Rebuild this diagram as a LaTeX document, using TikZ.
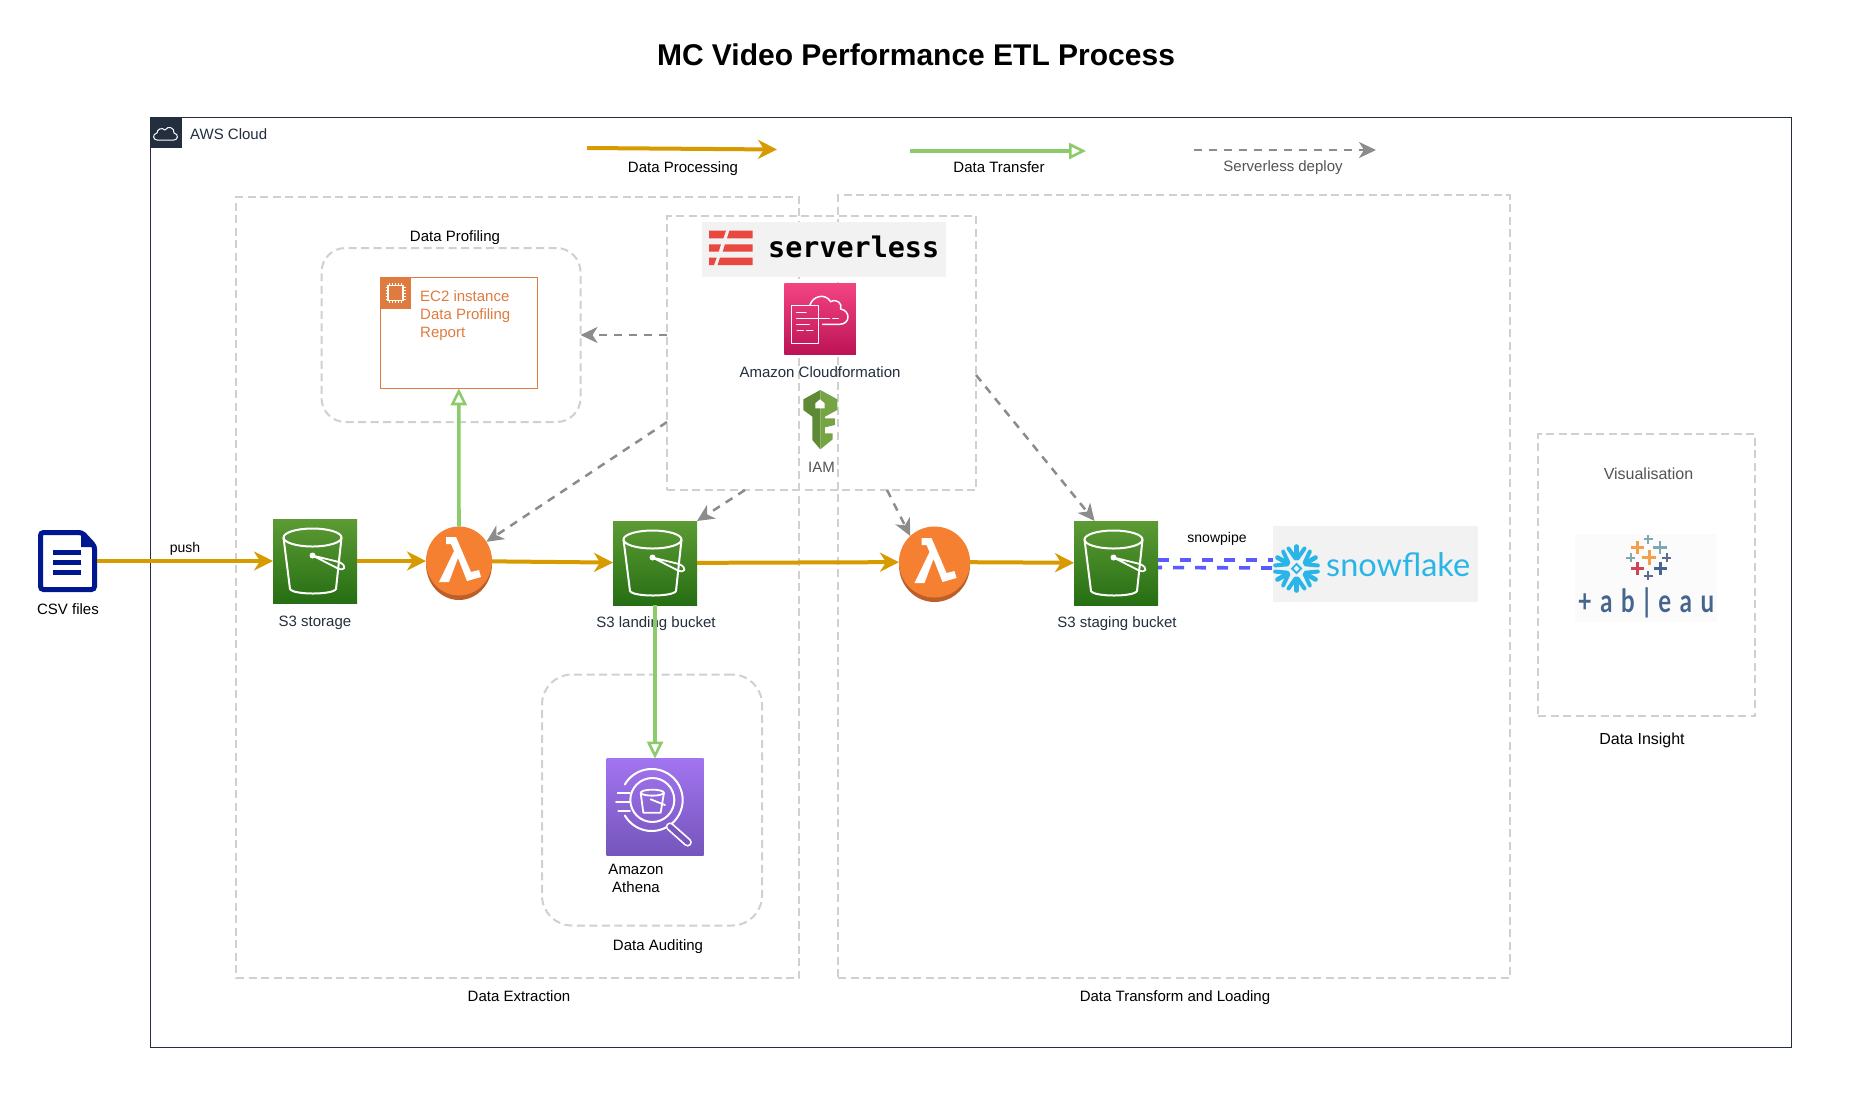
\documentclass[tikz,border=0pt]{standalone}
\usepackage{fontspec}
\setmainfont{Liberation Sans}
\newfontfamily\serverlessfont{DejaVu Sans Mono}
\newfontfamily\snowfont{Lato}
\newfontfamily\tableaufont[FakeStretch=0.75, LetterSpace=27]{Lato}
\usetikzlibrary{arrows.meta, positioning, calc, shapes.geometric}
\definecolor{awsdark}{HTML}{232F3E}
\definecolor{processorange}{HTML}{D79B00}
\definecolor{transfergreen}{HTML}{8CCB6B}
\definecolor{deploygray}{HTML}{8C8C8C}
\definecolor{regiongray}{HTML}{D0D0D0}
\definecolor{pipeblue}{HTML}{5A5AFF}
\definecolor{ectwo}{HTML}{E07B3F}
\definecolor{lambdaorange}{HTML}{F58032}
\definecolor{lambdaedge}{HTML}{BC5F2A}
\definecolor{logogray}{HTML}{F2F2F2}
\definecolor{serverlessred}{HTML}{E8483F}
\definecolor{csvnavy}{HTML}{00188F}
\definecolor{snowblue}{HTML}{29B5E8}
\definecolor{tabblue}{HTML}{46658E}
\definecolor{taborange}{HTML}{F2A04B}
\definecolor{tabteal}{HTML}{7FA8B3}
\definecolor{tabred}{HTML}{D0445A}
\definecolor{tabpurple}{HTML}{5C6A92}
\definecolor{keydark}{HTML}{5F8A35}
\definecolor{keylight}{HTML}{76A344}
\definecolor{bucketa}{HTML}{5C9B34}
\definecolor{bucketb}{HTML}{266E13}
\definecolor{formationa}{HTML}{F34482}
\definecolor{formationb}{HTML}{BC1356}
\definecolor{athenaa}{HTML}{A274F0}
\definecolor{athenab}{HTML}{7555BB}
\newcommand{\lblsize}{\fontsize{15}{18}\selectfont}
\newcommand{\biglblsize}{\fontsize{16}{19}\selectfont}
\newcommand{\smallsize}{\fontsize{14}{17}\selectfont}

\begin{document}
\begin{tikzpicture}[
    x=1pt, y=-1pt,
    multilbl/.style={font=\lblsize, inner sep=0pt, align=center, text=#1},
    multilbl/.default=black,
    lbl/.style={font=\lblsize, inner sep=0pt, text height=11pt, text depth=0pt, text=#1},
    lbl/.default=black,
    smalllbl/.style={font=\smallsize, inner sep=0pt, text height=10pt, text depth=0pt, text=black},
    regionbox/.style={
        rectangle, draw=regiongray, line width=2pt, outer sep=0pt, inner sep=0pt,
        dash pattern=on 8pt off 4.5pt
    },
    roundbox/.style={regionbox, rounded corners=#1},
    tile/.style={rectangle, inner sep=0pt, outer sep=0pt, minimum width=#1, minimum height=#1},
    bucket/.style={tile=84pt, top color=bucketa, bottom color=bucketb},
    logobox/.style={rectangle, fill=logogray, inner sep=0pt, outer sep=0pt},
    process/.style={-{Stealth[length=19pt,width=19pt,inset=6pt]}, line width=4pt, color=processorange},
    transfer/.style={-{Triangle[open,length=17pt,width=16pt,fill=white,line width=2.6pt]}, line width=3.6pt, color=transfergreen},
    deploy/.style={-{Stealth[length=17pt,width=16pt,inset=5pt]}, line width=2.5pt, color=deploygray, dash pattern=on 8pt off 7pt},
    pipe/.style={line width=3.6pt, color=pipeblue, dash pattern=on 11pt off 11pt},
    icon/.style={draw=white, line width=1.5pt, line join=round, line cap=round}
]
\useasboundingbox[fill=white] (0,0) rectangle (1870,1096);

% Title
\node[font=\fontsize{30}{36}\selectfont\bfseries, inner sep=0pt] (title) at (916,55) {MC Video Performance ETL Process};

% Containers
\node[rectangle, draw=awsdark, line width=1pt, minimum width=1640.5pt, minimum height=930pt, outer sep=0pt] (aws) at (970.75,582) {};
\node[rectangle, fill=awsdark, minimum width=31.5pt, minimum height=31pt, inner sep=0pt] (awstile) at (166.25,132.5) {};
\node[lbl=awsdark, anchor=west] (awslabel) at (190,134) {AWS Cloud};
\draw[white, line width=1pt, line join=round] (157,140) .. controls (153,140) and (152,134) .. (157,133) .. controls (157,129) and (162,127) .. (165,130) .. controls (168,125) and (175,128) .. (174,133) .. controls (179,134) and (178,140) .. (174,140) -- cycle;

\node[regionbox, minimum width=563pt, minimum height=781pt] (extraction) at (517.5,587.5) {};
\node[regionbox, minimum width=671.5pt, minimum height=783pt] (transform) at (1173.75,586.5) {};
\node[regionbox, minimum width=309pt, minimum height=274pt] (deploybox) at (821.5,353) {};
\node[regionbox, minimum width=217pt, minimum height=282pt] (insight) at (1646.5,575) {};
\node[roundbox=24pt, minimum width=259pt, minimum height=174pt] (profiling) at (451,335) {};
\node[roundbox=30pt, minimum width=220pt, minimum height=251pt] (auditing) at (652,800) {};

\node[lbl] (extractionlabel) at (519,996) {Data Extraction};
\node[lbl] (transformlabel) at (1175,996) {Data Transform and Loading};
\node[lbl] (profilinglabel) at (455,236) {Data Profiling};
\node[lbl] (auditinglabel) at (658,945) {Data Auditing};
\node[lbl, font=\biglblsize] (insightlabel) at (1642,739) {Data Insight};
\node[lbl=black!67, font=\biglblsize] (vislabel) at (1648.5,474) {Visualisation};

% Legend
\coordinate (procstart) at (587,148);
\coordinate (procend) at (777,149.5);
\coordinate (transtart) at (910,151);
\coordinate (tranend) at (1086,151);
\coordinate (depstart) at (1193.5,150);
\coordinate (depend) at (1376,150);
\draw[process] (procstart) -- (procend);
\draw[transfer] (transtart) -- (tranend);
\draw[deploy] (depstart) -- (depend);
\node[lbl] (proclabel) at (683,167) {Data Processing};
\node[lbl] (tranlabel) at (999,167) {Data Transfer};
\node[lbl=black!67] (deplabel) at (1283,166) {Serverless deploy};

% Source file
\node[rectangle, minimum width=59pt, minimum height=62pt, inner sep=0pt, outer sep=0pt] (csv) at (67.5,561) {};
\draw[csvnavy, line width=5pt, fill=white, rounded corners=3pt] (40.5,532.5) -- (82,532.5) -- (94.5,546) -- (94.5,589.5) -- (40.5,589.5) -- cycle;
\fill[csvnavy] (81,531) -- (81,547) -- (97,547) -- cycle;
\foreach \yy in {552.5,562.5,572.5}
    \draw[csvnavy, line width=5.5pt] (53,\yy) -- (81,\yy);
\node[lbl] (csvlabel) at (68,609) {CSV files};

% Buckets
\node[bucket] (storage) at (315,561) {};
\node[bucket] (landing) at (655,563) {};
\node[bucket] (staging) at (1116,563) {};
\foreach \bkt in {storage,landing,staging} {
    \begin{scope}[shift={(\bkt.center)}]
        \draw[icon, line width=2pt] (-2.5,-23.5) ellipse[x radius=29pt, y radius=9pt];
        \draw[icon, line width=2pt] (-31.5,-23.5) -- (-25,28) .. controls (-22,34) and (18,34) .. (21,28) -- (26.5,-23.5);
        \draw[icon, line width=1.8pt] (-2.5,-5.5) -- (22,7) .. controls (30,11) and (33,5) .. (24,1) -- (-2.5,-5.5);
        \fill[white] (-2.5,-5.5) circle[radius=3pt];
    \end{scope}
}
\node[lbl=awsdark] (storagelabel) at (315,621) {S3 storage};
\node[lbl=awsdark] (landinglabel) at (656,622) {S3 landing bucket};
\node[lbl=awsdark] (staginglabel) at (1117,622) {S3 staging bucket};

% Lambdas
\fill[lambdaedge] (459,564) ellipse[x radius=33pt, y radius=36pt];
\fill[lambdaedge] (934.5,565) ellipse[x radius=35.5pt, y radius=37pt];
\node[ellipse, fill=lambdaorange, minimum width=66pt, minimum height=69pt, inner sep=0pt, outer sep=0pt] (lambda1) at (459,561) {};
\node[ellipse, fill=lambdaorange, minimum width=71pt, minimum height=71pt, inner sep=0pt, outer sep=0pt] (lambda2) at (934.5,562) {};
\foreach \fn in {lambda1,lambda2} {
    \begin{scope}[shift={(\fn.center)}]
        \fill[white] (-13,-24) -- (-3,-24) -- (12,11) -- (20,9) -- (22,16) -- (8,20) -- (-1,-3) -- (-10,21) -- (-20,21) -- (-5,-10) -- (-8,-17) -- (-13,-17) -- cycle;
    \end{scope}
}

% EC2 report
\node[rectangle, draw=ectwo, line width=1pt, fill=white, minimum width=157.5pt, minimum height=110.5pt, outer sep=0pt] (ec2) at (458.75,333) {};
\node[rectangle, fill=ectwo, minimum width=31pt, minimum height=31pt, inner sep=0pt] (ec2tile) at (395.5,293) {};
\foreach \tick in {-6,-3,0,3,6} {
    \draw[white, line width=.7pt] (395.5+\tick,283) -- (395.5+\tick,303);
    \draw[white, line width=.7pt] (385.5,293+\tick) -- (405.5,293+\tick);
}
\fill[ectwo] (388,285.5) rectangle (403,300.5);
\draw[white, line width=1.2pt] (388,285.5) rectangle (403,300.5);
\node[font=\lblsize, text=ectwo, align=left, anchor=west, inner sep=0pt] (ec2label) at (420,316) {EC2 instance\\Data Profiling\\Report};

% Athena
\node[tile=97pt, top color=athenaa, bottom color=athenab] (athena) at (655,807) {};
\begin{scope}[shift={(520,650)}, x=.3333pt, y=-.3333pt]
    \draw[icon, line width=2pt] (314.5,403.5) arc[start angle=150, end angle=-150, radius=31pt];
    \draw[icon, line width=2pt] (397,450) circle[radius=22pt];
    \draw[white, line width=8.5pt, line cap=round] (450,530) -- (503,577);
    \draw[athenab!95!athenaa, line width=5pt, line cap=round] (450,530) -- (503,577);
    \foreach \ya/\xa in {430/293,457/288,483/295}
        \draw[icon, line width=1.8pt] (\xa,\ya) -- (330,\ya);
    \draw[icon, line width=1.8pt] (397,428) ellipse[x radius=11.5pt, y radius=3pt];
    \draw[icon, line width=1.8pt] (362,428) -- (370,488) -- (422,488) -- (432,428);
    \draw[icon, line width=1.8pt] (392,448) -- (435,465);
\end{scope}
\node[multilbl] (athenalabel) at (636,878) {Amazon\\Athena};

% Serverless block
\node[logobox, minimum width=244pt, minimum height=55pt] (serverless) at (824,249.5) {};
\node[font=\fontsize{28.4}{32}\serverlessfont\bfseries\selectfont, inner sep=0pt, anchor=west, text=black] (serverlesstext) at (768,247) {serverless};
\node[tile=71.5pt, top color=formationa, bottom color=formationb] (formation) at (820,319) {};
\node[lbl=awsdark] (formationlabel) at (820,372) {Amazon Cloudformation};
\node[minimum width=34pt, minimum height=59pt, inner sep=0pt] (iam) at (820,419.5) {};
\node[lbl=black!67] (iamlabel) at (821.5,467) {IAM};
\begin{scope}[shift={(640,190)}, x=.3333pt, y=-.3333pt]
    % logo bars
    \fill[serverlessred] (207,122) -- (258,122) -- (250,145) -- (207,145) -- cycle;
    \fill[serverlessred] (268,122) -- (338,122) -- (338,145) -- (261,145) -- cycle;
    \fill[serverlessred] (207,163) -- (243,163) -- (236,185) -- (207,185) -- cycle;
    \fill[serverlessred] (255,163) -- (338,163) -- (338,185) -- (248,185) -- cycle;
    \fill[serverlessred] (207,203) -- (230,203) -- (222,225) -- (207,225) -- cycle;
    \fill[serverlessred] (240,203) -- (338,203) -- (338,225) -- (233,225) -- cycle;
    % formation glyph
    \draw[icon] (455,347) rectangle (535,460);
    \draw[icon] (470,367) -- (498,367);
    \draw[icon] (470,385) -- (568,385);
    \draw[icon] (578,385) -- (595,385);
    \draw[icon] (470,403) -- (508,403);
    \draw[icon] (472,422) -- (490,422);
    \draw[icon] (500,422) -- (518,422);
    \draw[icon] (510,345) .. controls (518,318) and (556,308) .. (572,335) .. controls (590,325) and (608,340) .. (602,357) .. controls (632,362) and (632,403) .. (598,403) -- (548,403);
    % key
    \fill[keydark] (541,600) -- (490,628) -- (490,660) -- (517,680) -- (517,750) -- (541,778) -- cycle;
    \fill[keylight] (541,600) -- (592,628) -- (592,660) -- (555,680) -- (555,685) -- (585,685) -- (585,705) -- (555,712) -- (555,730) -- (578,730) -- (578,748) -- (541,778) -- cycle;
    \fill[white] (526,640) -- (540,628) -- (554,640) -- (554,655) -- (526,655) -- cycle;
\end{scope}

% Snowflake
\node[logobox, minimum width=204.5pt, minimum height=76pt] (snowflake) at (1375.25,564) {};
\node[font=\fontsize{32.5}{40}\snowfont\selectfont, text=snowblue, inner sep=0pt, anchor=west] (snowflaketext) at (1326,565) {snowflake};
\coordinate (snowcentre) at (1296.5,568.5);
\draw[pipe] ([yshift=3pt]staging.east) -- ([yshift=4pt]snowflake.west);
\draw[pipe, dash phase=7pt] ([yshift=-4.5pt]staging.east) -- ([yshift=-4pt]snowflake.west);
\foreach \ang in {30,90,...,330} {
    \begin{scope}[shift={(snowcentre)}, rotate=\ang]
        \draw[snowblue, line width=4.6pt, line cap=round] (11,0) -- (22,0);
        \draw[snowblue, line width=4pt, line cap=round] (20,-8) -- (10,-1);
        \draw[snowblue, line width=4pt, line cap=round] (20,8) -- (10,1);
    \end{scope}
}
\draw[snowblue, line width=1.8pt] (1292,568.5) -- (1296.5,564) -- (1301,568.5) -- (1296.5,573) -- cycle;

% Tableau
\node[rectangle, fill=black!1.5, minimum width=142pt, minimum height=88pt, inner sep=0pt] (tableau) at (1646,578) {};
\begin{scope}[shift={(1560,525)}, x=.3333pt, y=-.3333pt]
    \foreach \px/\py/\ps/\pc/\pw in {
        232/67/20/taborange/2.6,
        265/43/13/tabteal/2,
        300/67/20/tabteal/2.6,
        212/98/14/tabteal/2,
        267/98/22/taborange/3,
        320/98/14/tabpurple/2.2,
        232/130/20/tabred/3,
        265/152/14/tabpurple/2.2,
        302/130/20/tabblue/2.6
    } {
        \draw[\pc, line width=\pw pt] (\px-\ps,\py) -- (\px+\ps,\py);
        \draw[\pc, line width=\pw pt] (\px,\py-\ps) -- (\px,\py+\ps);
    }
\end{scope}
\node[font=\fontsize{32}{36}\tableaufont\bfseries\selectfont, text=tabblue, inner sep=0pt, anchor=base] (tableautext) at (1646,612) {+ab|eau};

% Connectors
\node[smalllbl] (pushlabel) at (185,547.5) {push};
\node[smalllbl] (snowpipelabel) at (1217,537.5) {snowpipe};

\draw[process] (csv) -- (storage);
\draw[process] (storage) -- (lambda1);
\draw[process] (lambda1) -- (landing);
\draw[process] (landing) -- (lambda2);
\draw[process] (lambda2) -- (staging);

\draw[transfer] (lambda1) -- (ec2);
\draw[transfer] (landing) -- (athena);

\coordinate (deployprof) at (667,335);
\coordinate (deployleft) at (667,422);
\coordinate (deployland) at (745,490);
\coordinate (deploymid) at (887,490);
\coordinate (deployright) at (976,375);
\draw[deploy] (deployprof) -- (profiling.east);
\draw[deploy] (deployleft) -- (lambda1.35);
\draw[deploy] (deployland) -- (landing.north east);
\draw[deploy] (deploymid) -- (lambda2.133);
\draw[deploy] (deployright) -- (staging.117);
\end{tikzpicture}
\end{document}
